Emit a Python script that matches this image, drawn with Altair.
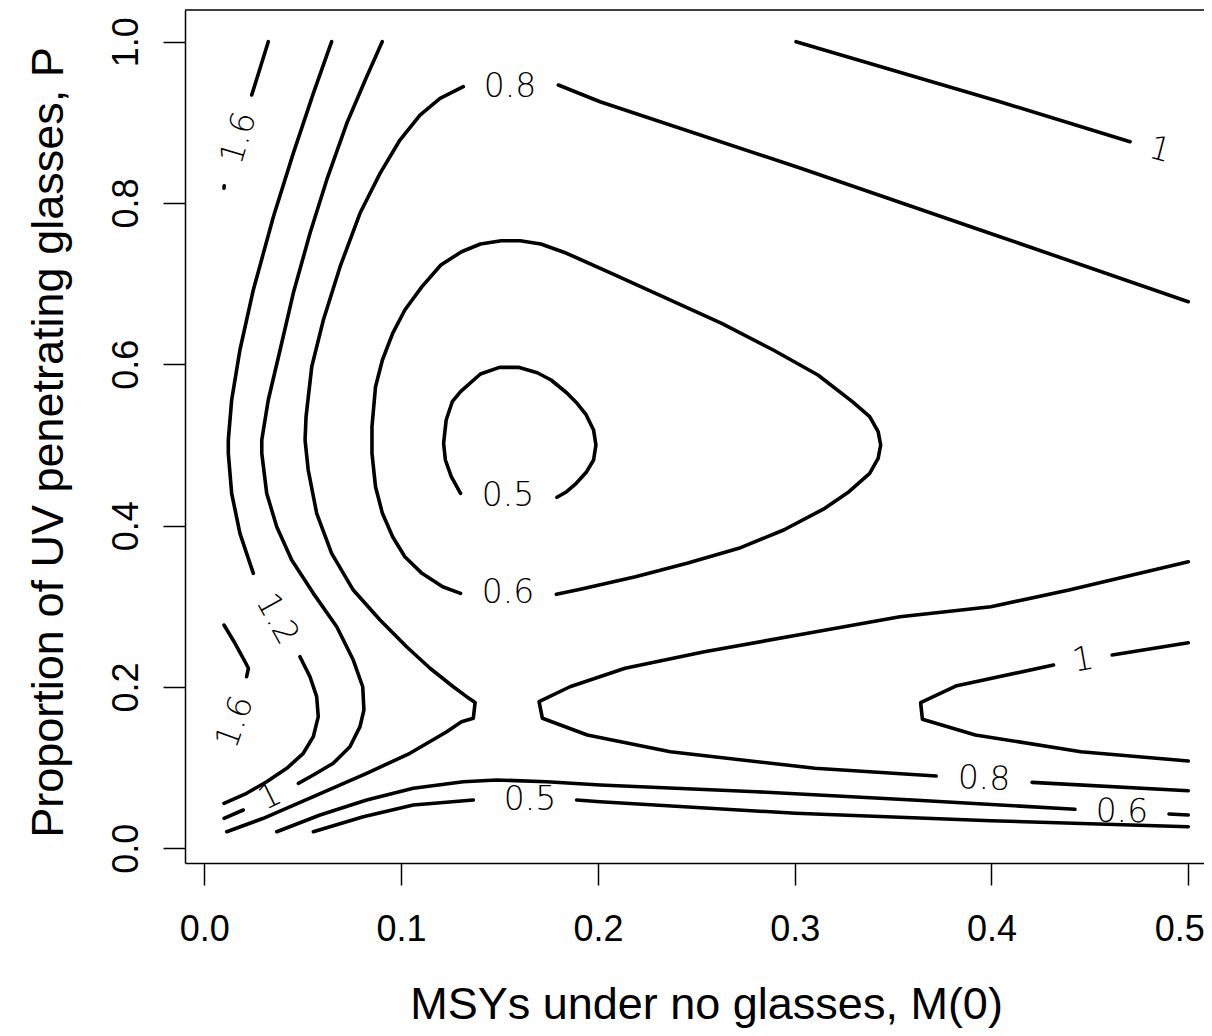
import altair as alt
import pandas as pd

# ---------------- contour segments: (M0, P) ----------------
# level 1.6
c16_top = [(0.0325, 1.000), (0.0241, 0.9339)]
c16_dot = [(0.0101, 0.8215), (0.0100, 0.8185)]
c16_low = [(0.0100, 0.2768), (0.0156, 0.2542), (0.0207, 0.2313), (0.0224, 0.2232), (0.0215, 0.2127)]

# level 1.2
c12_upper = [(0.0647, 1.000), (0.0554, 0.9360), (0.0452, 0.8616), (0.0351, 0.7830), (0.0249, 0.6922),
             (0.0181, 0.6178), (0.0139, 0.5558), (0.0122, 0.5062), (0.0122, 0.4897), (0.0139, 0.4401),
             (0.0181, 0.3905), (0.0249, 0.3409)]
c12_lower = [(0.0486, 0.2375), (0.0537, 0.2127), (0.0571, 0.1880), (0.0579, 0.1632), (0.0554, 0.1384),
             (0.0503, 0.1178), (0.0419, 0.0992), (0.0317, 0.0826), (0.0215, 0.0682), (0.0100, 0.0558)]

# level 1
c10_left = [(0.0904, 1.000), (0.0825, 0.9566), (0.0724, 0.8988), (0.0622, 0.8286), (0.0537, 0.7625),
            (0.0452, 0.6881), (0.0385, 0.6178), (0.0325, 0.5558), (0.0292, 0.5062), (0.0292, 0.4897),
            (0.0317, 0.4401), (0.0368, 0.3987), (0.0444, 0.3574), (0.0554, 0.3161), (0.0673, 0.2747),
            (0.0757, 0.2334), (0.0805, 0.2003), (0.0811, 0.1715), (0.0791, 0.1508), (0.0740, 0.1260),
            (0.0655, 0.1054), (0.0554, 0.0909), (0.0478, 0.0806)]
c10_left_end = [(0.0198, 0.0475), (0.0100, 0.0372)]
c10_top = [(0.3007, 1.000), (0.4043, 0.9256), (0.4704, 0.8760)]
c10_right_a = [(0.5000, 0.2549), (0.4613, 0.2396)]
c10_right_b = [(0.4315, 0.2273), (0.3818, 0.2012), (0.3640, 0.1805), (0.3649, 0.1599), (0.3918, 0.1405),
               (0.4454, 0.1198), (0.5000, 0.1082)]

# level 0.8
c08_left = [(0.1316, 0.9442), (0.1198, 0.9298), (0.1096, 0.9091), (0.0994, 0.8781), (0.0893, 0.8368),
            (0.0791, 0.7873), (0.0690, 0.7211), (0.0605, 0.6550), (0.0546, 0.5971), (0.0517, 0.5351),
            (0.0512, 0.5062), (0.0528, 0.4690), (0.0571, 0.4153), (0.0647, 0.3657), (0.0757, 0.3202),
            (0.0893, 0.2830), (0.1028, 0.2499), (0.1147, 0.2232), (0.1265, 0.2003), (0.1333, 0.1880),
            (0.1376, 0.1808), (0.1367, 0.1612), (0.1307, 0.1570), (0.1232, 0.1446), (0.1045, 0.1178),
            (0.0825, 0.0930), (0.0554, 0.0640), (0.0300, 0.0372), (0.0114, 0.0206)]
c08_top = [(0.1799, 0.9463), (0.2011, 0.9256), (0.3027, 0.8434), (0.4043, 0.7582), (0.5000, 0.6777)]
c08_right = [(0.5000, 0.3553), (0.4394, 0.3202), (0.3997, 0.2995), (0.3535, 0.2871), (0.3066, 0.2666),
             (0.2541, 0.2437), (0.2138, 0.2232), (0.1858, 0.2003), (0.1701, 0.1818), (0.1718, 0.1612),
             (0.1946, 0.1405), (0.2368, 0.1198), (0.3103, 0.0992), (0.3719, 0.0896)]
c08_right_end = [(0.4206, 0.0818), (0.5000, 0.0714)]

# level 0.6
c06_loop = [(0.1789, 0.3149), (0.1911, 0.3211), (0.2191, 0.3367), (0.2453, 0.3533), (0.2716, 0.3719),
            (0.2944, 0.3946), (0.3153, 0.4215), (0.3276, 0.4421), (0.3381, 0.4649), (0.3424, 0.4835),
            (0.3437, 0.5000), (0.3424, 0.5165), (0.3381, 0.5351), (0.3293, 0.5537), (0.3118, 0.5868),
            (0.2891, 0.6178), (0.2629, 0.6509), (0.2366, 0.6798), (0.2069, 0.7129), (0.1841, 0.7377),
            (0.1710, 0.7492), (0.1605, 0.7533), (0.1509, 0.7533), (0.1403, 0.7492), (0.1307, 0.7396),
            (0.1202, 0.7232), (0.1106, 0.6963), (0.1019, 0.6674), (0.0957, 0.6385), (0.0905, 0.6054),
            (0.0870, 0.5723), (0.0852, 0.5227), (0.0852, 0.4897), (0.0870, 0.4483), (0.0905, 0.4153),
            (0.0957, 0.3863), (0.1019, 0.3615), (0.1106, 0.3409), (0.1211, 0.3243), (0.1302, 0.3161)]
c06_bottom = [(0.0368, 0.0206), (0.0588, 0.0413), (0.0825, 0.0599), (0.1062, 0.0744), (0.1316, 0.0826),
              (0.1486, 0.0847), (0.1740, 0.0826), (0.2011, 0.0785), (0.2805, 0.0702), (0.3600, 0.0599),
              (0.4424, 0.0484)]
c06_bottom_end = [(0.4902, 0.0425), (0.5000, 0.0413)]

# level 0.5
c05_ring = [(0.1302, 0.4401), (0.1255, 0.4607), (0.1225, 0.4814), (0.1216, 0.5021), (0.1229, 0.5310),
            (0.1260, 0.5537), (0.1302, 0.5661), (0.1403, 0.5880), (0.1500, 0.5963), (0.1596, 0.5963),
            (0.1692, 0.5896), (0.1762, 0.5806), (0.1841, 0.5648), (0.1894, 0.5517), (0.1938, 0.5384),
            (0.1978, 0.5186), (0.1990, 0.5000), (0.1978, 0.4814), (0.1943, 0.4669), (0.1890, 0.4525),
            (0.1841, 0.4421), (0.1792, 0.4352)]
c05_bottom_a = [(0.0554, 0.0206), (0.0808, 0.0392), (0.1062, 0.0537), (0.1367, 0.0599)]
c05_bottom_b = [(0.1892, 0.0599), (0.2011, 0.0578), (0.3004, 0.0434), (0.3997, 0.0342), (0.5000, 0.0268)]

segments = [c16_top, c16_dot, c16_low, c12_upper, c12_lower, c10_left, c10_left_end, c10_top,
            c10_right_a, c10_right_b, c08_left, c08_top, c08_right, c08_right_end, c06_loop,
            c06_bottom, c06_bottom_end, c05_ring, c05_bottom_a, c05_bottom_b]

# ---------------- contour labels ----------------
label_text = ["0.8", "0.6", "0.5", "0.5", "0.8", "0.6", "1", "1", "1.6", "1.2", "1.6", "1"]
label_m = [0.1553, 0.1543, 0.1543, 0.1655, 0.3962, 0.4663, 0.4465, 0.4856, 0.0176, 0.0369, 0.0156, 0.0334]
label_p = [0.9438, 0.3165, 0.4368, 0.0599, 0.0859, 0.0450, 0.2335, 0.8657, 0.8806, 0.2843, 0.1566, 0.0636]
label_angle = [0, 0, 0, 0, 2, 1, 350, 15, 287, 61, 290, 334]

# ---------------- axes ----------------
x_ticks = [0.0, 0.1, 0.2, 0.3, 0.4, 0.5]
y_ticks = [0.0, 0.2, 0.4, 0.6, 0.8, 1.0]
x_title = "MSYs under no glasses, M(0)"
y_title = "Proportion of UV penetrating glasses, P"

rows = []
for sid, pts in enumerate(segments):
    for i, (m, p) in enumerate(pts):
        rows.append({"seg": sid, "i": i, "m": m, "p": p})
lines_df = pd.DataFrame(rows)
labels_df = pd.DataFrame({"label": label_text, "m": label_m, "p": label_p, "ang": label_angle})

W, H = 1019, 853
FONT = "Liberation Sans"

x_scale = alt.Scale(domain=[-0.00981, 0.50798], nice=False, zero=False)
y_scale = alt.Scale(domain=[-0.0182, 1.0393], nice=False, zero=False)

x_axis = alt.Axis(values=x_ticks, format=".1f", title=x_title, grid=False,
                  domain=True, domainColor="black", domainWidth=1.5,
                  ticks=True, tickColor="black", tickWidth=1.5, tickSize=22,
                  labelFont=FONT, labelFontSize=36, labelColor="black",
                  labelBaseline="alphabetic", labelPadding=55, labelFlush=False, labelOverlap=False,
                  labelOffset={"condition": {"test": "datum.value > 0.45", "value": -9}, "value": 0},
                  titleFont=FONT, titleFontSize=45, titleFontWeight="normal", titleColor="black",
                  titleX=521, titleY=155, titleAlign="center", titleBaseline="alphabetic")
y_axis = alt.Axis(values=y_ticks, format=".1f", title=y_title, grid=False,
                  domain=True, domainColor="black", domainWidth=1.5,
                  ticks=True, tickColor="black", tickWidth=1.5, tickSize=22,
                  labelFont=FONT, labelFontSize=36, labelColor="black",
                  labelAngle=270, labelAlign="center", labelBaseline="alphabetic",
                  labelPadding=26, labelFlush=False, labelOverlap=False,
                  titleFont=FONT, titleFontSize=45, titleFontWeight="normal", titleColor="black",
                  titleAngle=270, titleX=-123, titleY=432, titleAlign="center",
                  titleBaseline="alphabetic")

lines = alt.Chart(lines_df).mark_line(
    color="black", strokeWidth=3.6, strokeCap="round", strokeJoin="round"
).encode(
    x=alt.X("m:Q", scale=x_scale, axis=x_axis),
    y=alt.Y("p:Q", scale=y_scale, axis=y_axis),
    detail="seg:N",
    order="i:Q",
)

labels = alt.Chart(labels_df).mark_text(
    font="DejaVu Sans", fontSize=33, fontWeight=200, color="black",
    align="center", baseline="middle"
).encode(
    x=alt.X("m:Q", scale=x_scale),
    y=alt.Y("p:Q", scale=y_scale),
    text="label:N",
    angle=alt.Angle("ang:Q", scale=None),
)

top_border = alt.Chart(pd.DataFrame({"a": [0]})).mark_rule(
    color="black", strokeWidth=1.5
).encode(x=alt.value(0), x2=alt.value(W), y=alt.value(0))

chart = alt.layer(lines, labels, top_border).properties(
    width=W, height=H,
    autosize=alt.AutoSizeParams(type="none"),
    padding={"left": 177, "top": 2, "right": 0, "bottom": 168},
    background="white",
).configure_view(stroke=None)

chart.save("out.html", embed_options={"renderer": "svg", "actions": False})
